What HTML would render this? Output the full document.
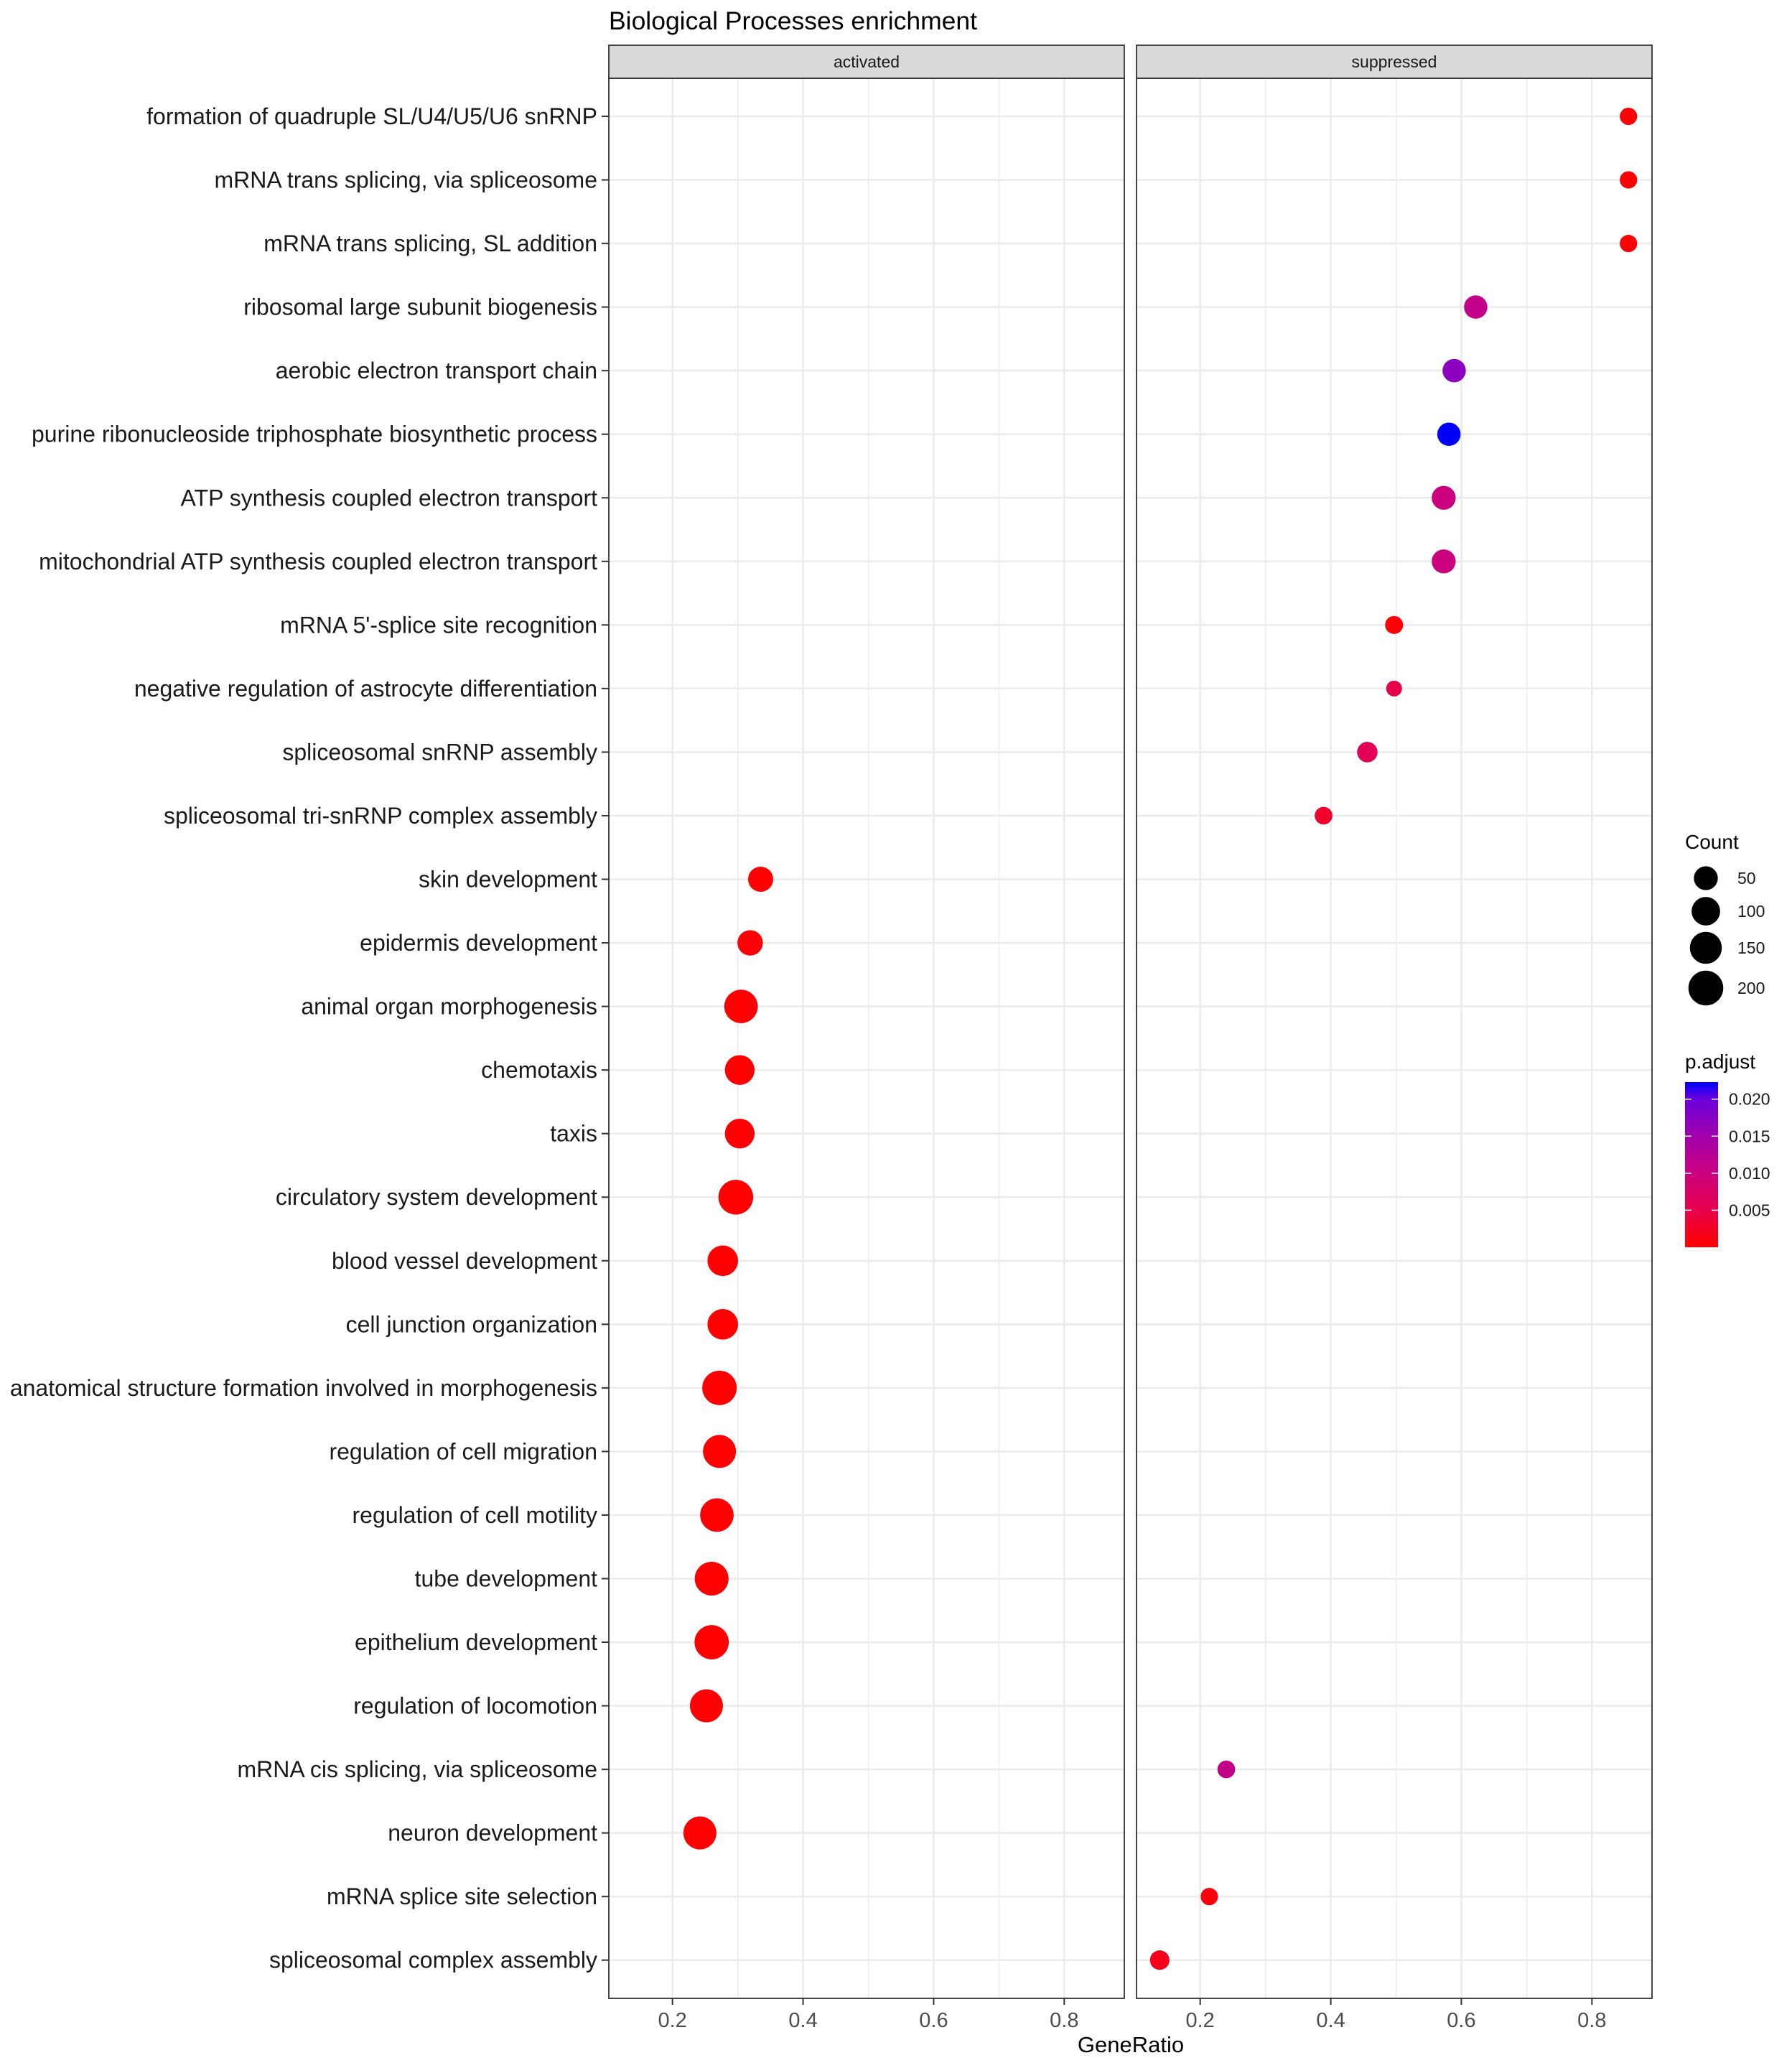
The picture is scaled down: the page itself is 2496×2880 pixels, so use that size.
<!DOCTYPE html>
<html><head><meta charset="utf-8">
<style>
html,body{margin:0;padding:0;background:#fff;}
svg{display:block;font-family:"Liberation Sans",Arial,sans-serif;}
</style></head>
<body>
<svg id="chart" width="2496" height="2880" viewBox="0 0 2496 2880" xmlns="http://www.w3.org/2000/svg">
<defs>
<linearGradient id="pgrad" x1="0" y1="1" x2="0" y2="0">
<stop offset="0" stop-color="#FF0000"/>
<stop offset="0.22" stop-color="#E8004A"/>
<stop offset="0.45" stop-color="#CA007F"/>
<stop offset="0.67" stop-color="#A200AC"/>
<stop offset="0.9" stop-color="#6A00DC"/>
<stop offset="1" stop-color="#0000FF"/>
</linearGradient>
</defs>
<rect width="2496" height="2880" fill="#fff"/>
<text x="848" y="41" font-size="35.5" fill="#000">Biological Processes enrichment</text>
<g id="plot"></g>
</svg>
<script>
const categories = [
"formation of quadruple SL/U4/U5/U6 snRNP","mRNA trans splicing, via spliceosome","mRNA trans splicing, SL addition",
"ribosomal large subunit biogenesis","aerobic electron transport chain","purine ribonucleoside triphosphate biosynthetic process",
"ATP synthesis coupled electron transport","mitochondrial ATP synthesis coupled electron transport","mRNA 5'-splice site recognition",
"negative regulation of astrocyte differentiation","spliceosomal snRNP assembly","spliceosomal tri-snRNP complex assembly",
"skin development","epidermis development","animal organ morphogenesis","chemotaxis","taxis","circulatory system development",
"blood vessel development","cell junction organization","anatomical structure formation involved in morphogenesis",
"regulation of cell migration","regulation of cell motility","tube development","epithelium development",
"regulation of locomotion","mRNA cis splicing, via spliceosome","neuron development","mRNA splice site selection",
"spliceosomal complex assembly"];
const panels = ["activated","suppressed"];
const seriesPanel = [1,1,1,1,1,1,1,1,1,1,1,1,0,0,0,0,0,0,0,0,0,0,0,0,0,0,1,0,1,1];
const geneRatio = [0.856,0.856,0.856,0.622,0.589,0.581,0.573,0.573,0.497,0.497,0.456,0.389,
0.335,0.319,0.305,0.303,0.303,0.297,0.277,0.277,0.272,0.272,0.268,0.26,0.26,0.252,0.24,0.242,0.214,0.138];
const counts = [12,12,12,45,45,45,50,50,14,9,25,13,61,64,175,116,116,199,129,129,193,167,175,181,189,167,13,167,12,20];
const pAdjust = [0.0002,0.0002,0.0002,0.011,0.017,0.0223,0.010,0.010,0.0003,0.005,0.006,0.003,
0.0001,0.0005,0.0001,0.0001,0.0001,0.0001,0.0001,0.0001,0.0001,0.0001,0.0001,0.0001,0.0001,0.0001,0.011,0.0001,0.0008,0.002];
const xTicks = [0.2,0.4,0.6,0.8];
const xTickLabels = ["0.2","0.4","0.6","0.8"];
const sizeBreaks = [50,100,150,200];
const colorBreaks = [0.020,0.015,0.010,0.005];

const NS="http://www.w3.org/2000/svg";
const plot=document.getElementById('plot');
function mk(tag,attrs,parent){const e=document.createElementNS(NS,tag);for(const k in attrs)e.setAttribute(k,attrs[k]);(parent||plot).appendChild(e);return e;}
const panelX=[848,1583], panelW=718, pTop=109, pBot=2783, stripTop=63;
const xMin=0.1025, xMax=0.892;
function xScale(p,v){return panelX[p]+(v-xMin)/(xMax-xMin)*panelW;}
const row0=162, rowStep=(2783-109)/30.2;
function yScale(i){return row0+i*rowStep;}
function rScale(c){const t=Math.max(0,(c-8)/212);return 10+15*Math.sqrt(t);}
const pMax=0.0223;
const stops=[[0,[255,0,0]],[0.22,[232,0,74]],[0.45,[202,0,127]],[0.67,[162,0,172]],[0.9,[106,0,220]],[1,[0,0,255]]];
function colorScale(p){const t=Math.min(1,Math.max(0,p/pMax));
 for(let i=1;i<stops.length;i++){if(t<=stops[i][0]){const a=stops[i-1],b=stops[i];const f=(t-a[0])/(b[0]-a[0]);
 const c=a[1].map((v,k)=>Math.round(v+(b[1][k]-v)*f));return `rgb(${c[0]},${c[1]},${c[2]})`;}}return 'rgb(0,0,255)';}

panels.forEach((name,p)=>{
 const x0=panelX[p];
 const g=mk('g',{});
 
 
 mk('rect',{x:x0,y:pTop,width:panelW,height:pBot-pTop,fill:'#fff'},g);
 for(let v=0.1;v<=0.9;v+=0.2){const xx=xScale(p,v+0.0001);if(xx>x0&&xx<x0+panelW)mk('line',{x1:xx,x2:xx,y1:pTop,y2:pBot,stroke:'#EBEBEB','stroke-width':1.5},g);}
 xTicks.forEach(v=>{mk('line',{x1:xScale(p,v),x2:xScale(p,v),y1:pTop,y2:pBot,stroke:'#EBEBEB','stroke-width':2.6},g);});
 categories.forEach((c,i)=>{mk('line',{x1:x0,x2:x0+panelW,y1:yScale(i),y2:yScale(i),stroke:'#EBEBEB','stroke-width':2.6},g);});
 mk('rect',{x:x0,y:pTop,width:panelW,height:pBot-pTop,fill:'none',stroke:'#333','stroke-width':1.8},g);
 const s=mk('rect',{x:x0,y:stripTop,width:panelW,height:pTop-stripTop,fill:'#D9D9D9',stroke:'#333','stroke-width':1.8},g);
 
 
 const st=mk('text',{x:x0+panelW/2,y:(stripTop+pTop)/2+8,'font-size':23,'text-anchor':'middle',fill:'#1a1a1a'},g);
 st.textContent=name;
 
 
 xTicks.forEach((v,k)=>{
  mk('line',{x1:xScale(p,v),x2:xScale(p,v),y1:pBot,y2:pBot+9,stroke:'#333','stroke-width':2},g);
  const t=mk('text',{x:xScale(p,v),y:2823,'font-size':29,'text-anchor':'middle',fill:'#4D4D4D'},g);
  t.textContent=xTickLabels[k];
  
  
 });
});
categories.forEach((c,i)=>{
 mk('line',{x1:838,x2:848,y1:yScale(i),y2:yScale(i),stroke:'#333','stroke-width':2});
 const t=mk('text',{x:832,y:yScale(i)+11,'font-size':32,'text-anchor':'end',fill:'#1a1a1a'});
 t.textContent=c;
 
 
});
categories.forEach((c,i)=>{
 const p=seriesPanel[i];
 const d=mk('circle',{cx:xScale(p,geneRatio[i]),cy:yScale(i),r:rScale(counts[i]),fill:colorScale(pAdjust[i])});
 
 
});
const xt=mk('text',{x:1575,y:2858,'font-size':31,'text-anchor':'middle',fill:'#000'});
xt.textContent='GeneRatio';


// legends
const lt=mk('text',{x:2347,y:1182,'font-size':28,fill:'#000'});
lt.textContent='Count';


const ly=[1223,1269,1320,1376];
sizeBreaks.forEach((b,k)=>{
 const c=mk('circle',{cx:2376,cy:ly[k],r:rScale(b),fill:'#000'});
 
 
 const t=mk('text',{x:2420,y:ly[k]+8,'font-size':23,fill:'#1a1a1a'});
 t.textContent=String(b);
 
 
});
const pt=mk('text',{x:2347,y:1488,'font-size':28,fill:'#000'});
pt.textContent='p.adjust';


const cbTop=1507,cbBot=1737;
const cb=mk('rect',{x:2347,y:cbTop,width:46,height:cbBot-cbTop,fill:'url(#pgrad)'});


colorBreaks.forEach(b=>{
 const yy=cbBot-(b/pMax)*(cbBot-cbTop);
 mk('line',{x1:2347,x2:2356,y1:yy,y2:yy,stroke:'#fff','stroke-width':1.5});
 mk('line',{x1:2384,x2:2393,y1:yy,y2:yy,stroke:'#fff','stroke-width':1.5});
 const t=mk('text',{x:2408,y:yy+8,'font-size':23,fill:'#1a1a1a'});
 t.textContent=b.toFixed(3);
 
 
});
</script>
</body></html>
